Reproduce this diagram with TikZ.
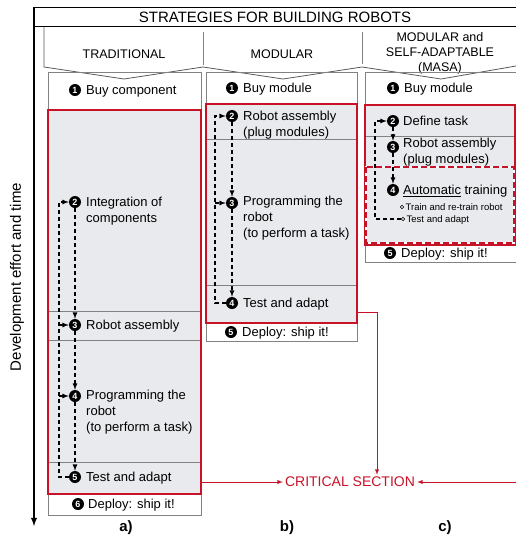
\documentclass[tikz,border=0pt]{standalone}
\usepackage{fontspec}
\setmainfont{Liberation Sans}
\usetikzlibrary{arrows}
\tikzset{>={latex}}

\definecolor{critred}{RGB}{200,18,40}
\definecolor{boxgray}{RGB}{233,234,237}
\definecolor{linegray}{RGB}{130,130,130}

\tikzset{
	num/.style={circle, fill=black, text=white, inner sep=0pt, minimum size=12pt, font=\fontsize{9}{9}\selectfont\bfseries},
	txt/.style={anchor=base west, align=left, inner sep=0pt, font=\fontsize{13}{16}\selectfont},
	subtxt/.style={anchor=base west, inner sep=0pt, font=\fontsize{9.5}{11}\selectfont},
	bullet/.style={circle, draw, inner sep=0pt, minimum size=3.6pt, line width=0.6pt},
	fb/.style={line width=1.2pt, dash pattern=on 4pt off 3pt},
	crit/.style={critred, line width=0.9pt},
	redbox/.style={draw=critred, line width=2pt, fill=boxgray},
	outbox/.style={draw=linegray, line width=0.8pt},
	rowsep/.style={draw=linegray, line width=0.8pt},
	hdr/.style={font=\fontsize{12.5}{15}\selectfont, align=center},
}

\begin{document}
\begin{tikzpicture}[x=1pt, y=-1pt]
		\useasboundingbox (0,0) rectangle (516,539);

		% frame, title and time axis
		\draw[line width=0.9pt] (34,7.5) -- (516,7.5);
		\draw[line width=0.9pt] (34,26.5) -- (516,26.5);
		\node[font=\fontsize{15}{18}\selectfont] (title) at (275,17) {STRATEGIES FOR BUILDING ROBOTS};
		\draw[->, line width=1.8pt] (34,7) -- (34,526);
		\node[rotate=90, font=\fontsize{15}{18}\selectfont] (ylab) at (17,277) {Development effort and time};

		\draw[black!65, line width=0.8pt] (44,26.5) -- (44,67) -- (124,79) -- (203,67) -- (283,79) -- (362,67) -- (441,79) -- (516,66);
		\draw[linegray] (203,32) -- (203,65);
		\draw[linegray] (362,32) -- (362,64);
		\node[hdr] (hdrA) at (124,54) {TRADITIONAL};
		\node[hdr] (hdrB) at (282,54) {MODULAR};
		\node[hdr] (hdrC) at (440,53) {MODULAR and\\SELF-ADAPTABLE\\(MASA)};

		% a) traditional
		\draw[outbox] (48,72) rectangle (201,515);
		\draw[redbox] (48,110) rectangle (201,494);
		\draw[rowsep] (49,311) -- (200,311);
		\draw[rowsep] (49,340) -- (200,340);
		\draw[rowsep] (49,462) -- (200,462);

		\node[num] (a1) at (75,90) {1};
		\node[txt] (a1t) at (86,94.7) {Buy component};
		\node[num] (a2) at (75,202) {2};
		\node[txt] (a2t) at (86,222.7) {Integration of\\components};
		\node[num] (a3) at (75,325) {3};
		\node[txt] (a3t) at (86,329.7) {Robot assembly};
		\node[num] (a4) at (75,396) {4};
		\node[txt] (a4t) at (86,431.7) {Programming the\\robot\\(to perform a task)};
		\node[num] (a5) at (75,477) {5};
		\node[txt] (a5t) at (86,481.7) {Test and adapt};
		\node[num] (a6) at (78,504) {6};
		\node[txt] (a6t) at (88,508.7) {Deploy: ship it!};

		\draw[fb,->] (a2) -- (a3);
		\draw[fb,->] (a3) -- (a4);
		\draw[fb,->] (a4) -- (a5);
		\coordinate (aL) at (59,477);
		\draw[fb,->] (a5) -- (aL) |- (a2);
		\draw[fb,->] (aL |- a3) -- (a3);
		\draw[fb,->] (aL |- a4) -- (a4);

		% b) modular
		\draw[outbox] (206,72) rectangle (357,341);
		\draw[redbox] (206,104) rectangle (357,323);
		\draw[rowsep] (207,139) -- (356,139);
		\draw[rowsep] (207,285) -- (356,285);

		\node[num] (b1) at (232,88) {1};
		\node[txt] (b1t) at (243,92.7) {Buy module};
		\node[num] (b2) at (232,116) {2};
		\node[txt] (b2t) at (243,136.7) {Robot assembly\\(plug modules)};
		\node[num] (b3) at (232,203) {3};
		\node[txt] (b3t) at (243,237.7) {Programming the\\robot\\(to perform a task)};
		\node[num] (b4) at (232,303) {4};
		\node[txt] (b4t) at (243,307.7) {Test and adapt};
		\node[num] (b5) at (231,332) {5};
		\node[txt] (b5t) at (242,336.7) {Deploy: ship it!};

		\draw[fb,->] (b2) -- (b3);
		\draw[fb,->] (b3) -- (b4);
		\coordinate (bL) at (215,303);
		\draw[fb,->] (b4) -- (bL) |- (b2);
		\draw[fb,->] (bL |- b3) -- (b3);

		% c) MASA
		\draw[outbox] (365,72) rectangle (519,262);
		\draw[redbox] (365,105) rectangle (515,245);
		\draw[rowsep] (366,136) -- (514,136);
		\draw[critred, line width=2.6pt, dash pattern=on 6pt off 3pt, preaction={draw=white, line width=2.6pt}] (366,167) rectangle (514,243);

		\node[num] (c1) at (393,88) {1};
		\node[txt] (c1t) at (404,92.7) {Buy module};
		\node[num] (c2) at (393,121) {2};
		\node[txt] (c2t) at (403,125.7) {Define task};
		\node[num] (c3) at (393,147) {3};
		\node[txt] (c3t) at (403,163.7) {Robot assembly\\(plug modules)};
		\node[num] (c4) at (393,190) {4};
		\node[txt] (c4t) at (403,194.7) {\underline{Automatic} training};
		\node[bullet] (cb1) at (402,207) {};
		\node[subtxt] (cb1t) at (405.5,210.4) {Train and re-train robot};
		\node[bullet] (cb2) at (403,219) {};
		\node[subtxt] (cb2t) at (406.5,222.4) {Test and adapt};
		\node[num] (c5) at (390,253) {5};
		\node[txt] (c5t) at (401,257.7) {Deploy: ship it!};

		\draw[fb,->] (c2) -- (c3);
		\draw[fb,->] (c3) -- (c4);
		\coordinate (cL) at (375,219);
		\draw[fb,->] (cb2) -- (cL) |- (c2);

		% critical section
		\node[text=critred, font=\fontsize{14}{16}\selectfont, inner sep=2pt] (crit) at (350,482) {CRITICAL SECTION};
		\coordinate (redA) at (201,482);
		\coordinate (redB) at (357,312);
		\coordinate (turnB) at (377,312);
		\coordinate (redC) at (516,482);
		\draw[crit,->] (redA) -- (crit);
		\draw[crit,->] (redC) -- (crit);
		\draw[crit,->] (redB) -- (turnB) -- (turnB |- crit.north);

		\node[font=\fontsize{15}{18}\selectfont\bfseries] (labA) at (126,528) {a)};
		\node[font=\fontsize{15}{18}\selectfont\bfseries] (labB) at (287,528) {b)};
		\node[font=\fontsize{15}{18}\selectfont\bfseries] (labC) at (445,528) {c)};
\end{tikzpicture}
\end{document}
